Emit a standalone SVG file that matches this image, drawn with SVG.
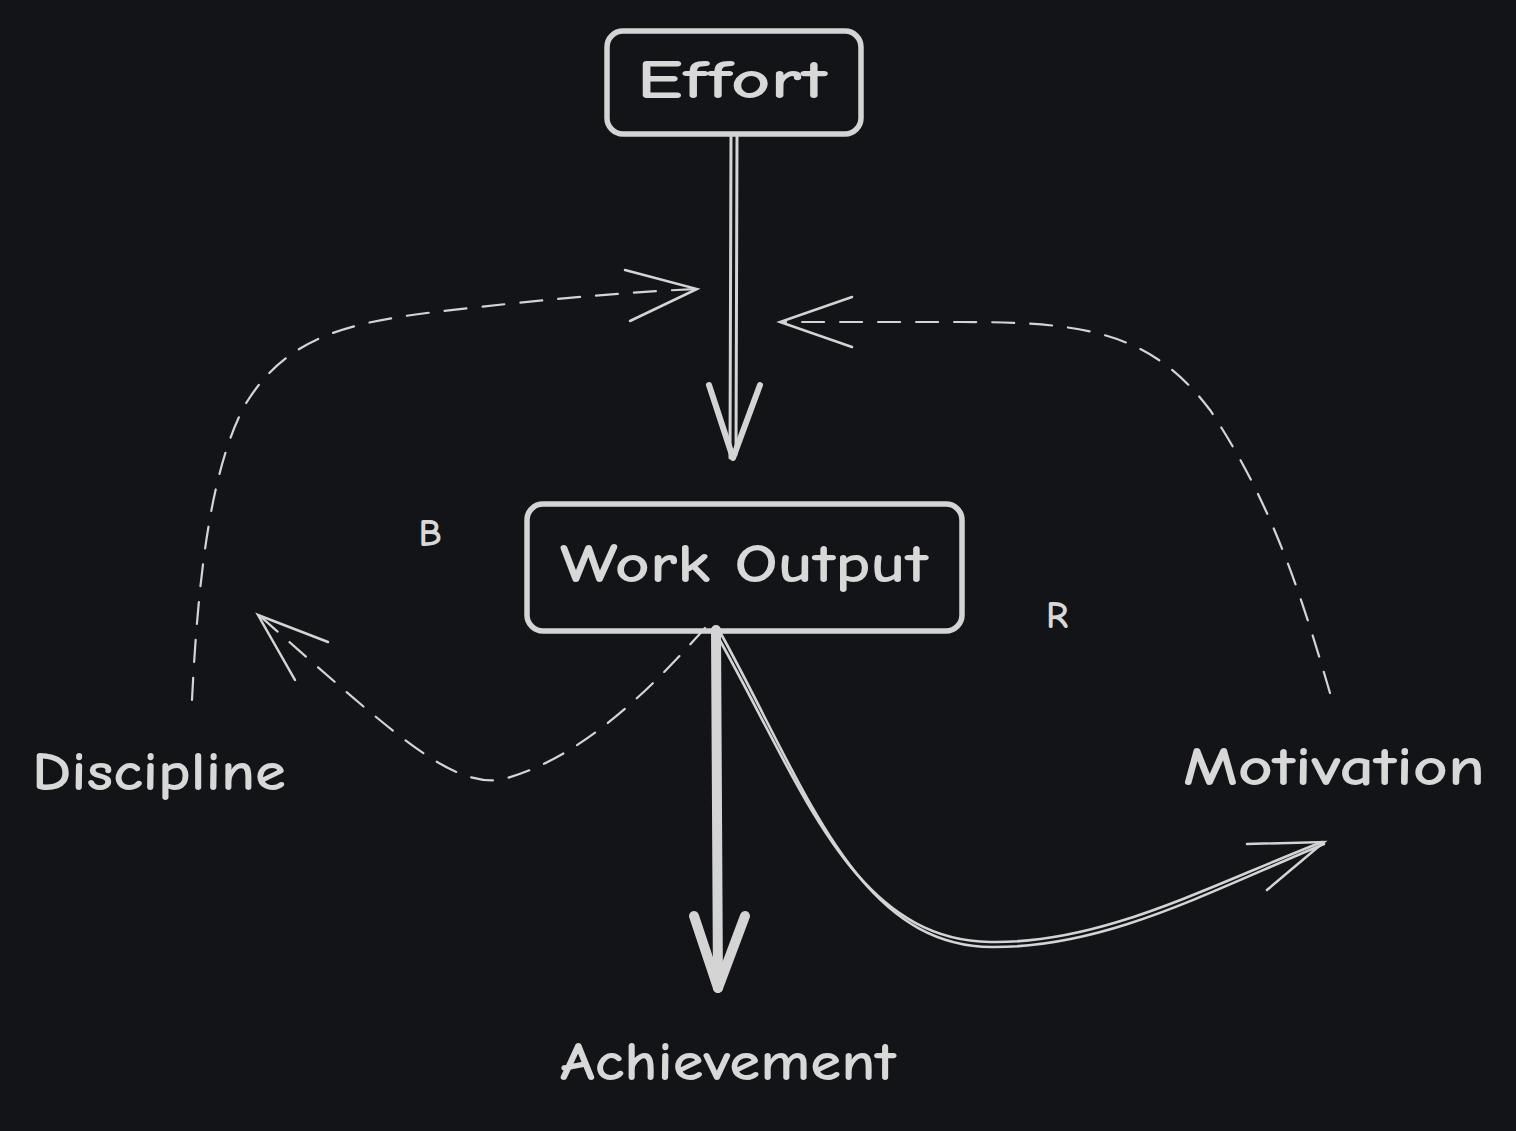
<svg xmlns="http://www.w3.org/2000/svg" width="1516" height="1131" viewBox="0 0 1516 1131">
<style>
.bg{fill:#121418}
.box{fill:none;stroke:#d4d4d4;stroke-width:5.5;stroke-linecap:round;stroke-linejoin:round}
.lbl{fill:#d8d8d8;font-family:"Comic Neue","Liberation Sans","Noto Sans",sans-serif;font-size:54px;font-weight:700;text-anchor:middle}
.small{fill:#d8d8d8;font-family:"Comic Neue","Liberation Sans","Noto Sans",sans-serif;font-size:38px;font-weight:700;text-anchor:middle}
.ln{fill:none;stroke:#d4d4d4;stroke-linecap:round;stroke-linejoin:round}
.dash{fill:none;stroke:#d4d4d4;stroke-width:2.2;stroke-dasharray:22 16;stroke-linecap:round}
.thin{fill:none;stroke:#d4d4d4;stroke-width:2.5;stroke-linecap:round}
</style>
<rect class="bg" x="0" y="0" width="1516" height="1131"/>
<g id="connectors">
  <!-- Effort -> Work Output -->
  <path class="ln" stroke-width="3" d="M731 137 L730 458"/>
  <path class="ln" stroke-width="3" d="M737 137 L736 455"/>
  <path class="ln" stroke-width="6" d="M709 385 L733 458 L760 385"/>
  <!-- Work Output -> Achievement -->
  <path class="ln" stroke-width="10" d="M716 630 L718 988"/>
  <path class="ln" stroke-width="10" d="M694 916 L718 988 L745 916"/>
  <!-- Work Output -> Motivation (solid curve) -->
  <path class="ln" stroke-width="2.6" d="M714 630 C800 780 850 940 990 942 C1100 944 1200 890 1322 842"/>
  <path class="ln" stroke-width="2.6" d="M720 632 C805 785 855 946 992 947 C1104 948 1204 894 1324 844"/>
  <path class="thin" d="M1247 844 L1324 842 L1267 890"/>
  <!-- Motivation -> Effort arrow (dashed) -->
  <path class="dash" d="M1330 693 C1300 590 1270 500 1210 410 C1150 330 1080 322 960 322 L782 322"/>
  <path class="thin" d="M852 297 L780 322 Q820 336 852 347"/>
  <!-- Discipline -> Effort arrow (dashed) -->
  <path class="dash" d="M192 700 C198 580 210 470 245 405 C290 330 360 320 470 308 C560 298 630 292 697 289"/>
  <path class="thin" d="M625 270 L697 289 L630 321"/>
  <!-- Work Output -> Discipline (dashed) -->
  <path class="dash" d="M705 628 C650 690 580 760 500 780 C450 785 400 740 260 616"/>
  <path class="thin" d="M328 642 L258 615 L295 680"/>
</g>
<g id="effort">
  <rect class="box" x="607" y="31" width="254" height="103" rx="16"/>
  <text class="lbl" x="732" y="98" textLength="190" lengthAdjust="spacingAndGlyphs">Effort</text>
</g>
<g id="work-output">
  <rect class="box" x="527" y="504" width="435" height="127" rx="16"/>
  <text class="lbl" x="744" y="582" textLength="368" lengthAdjust="spacingAndGlyphs">Work Output</text>
</g>
<g id="achievement">
  <text class="lbl" x="728" y="1080" textLength="336" lengthAdjust="spacingAndGlyphs">Achievement</text>
</g>
<g id="discipline">
  <text class="lbl" x="159" y="790" textLength="254" lengthAdjust="spacingAndGlyphs">Discipline</text>
</g>
<g id="motivation">
  <text class="lbl" x="1334" y="785" textLength="302" lengthAdjust="spacingAndGlyphs">Motivation</text>
</g>
<g id="loop-b">
  <text class="small" x="430" y="546">B</text>
</g>
<g id="loop-r">
  <text class="small" x="1057" y="628">R</text>
</g>
</svg>
